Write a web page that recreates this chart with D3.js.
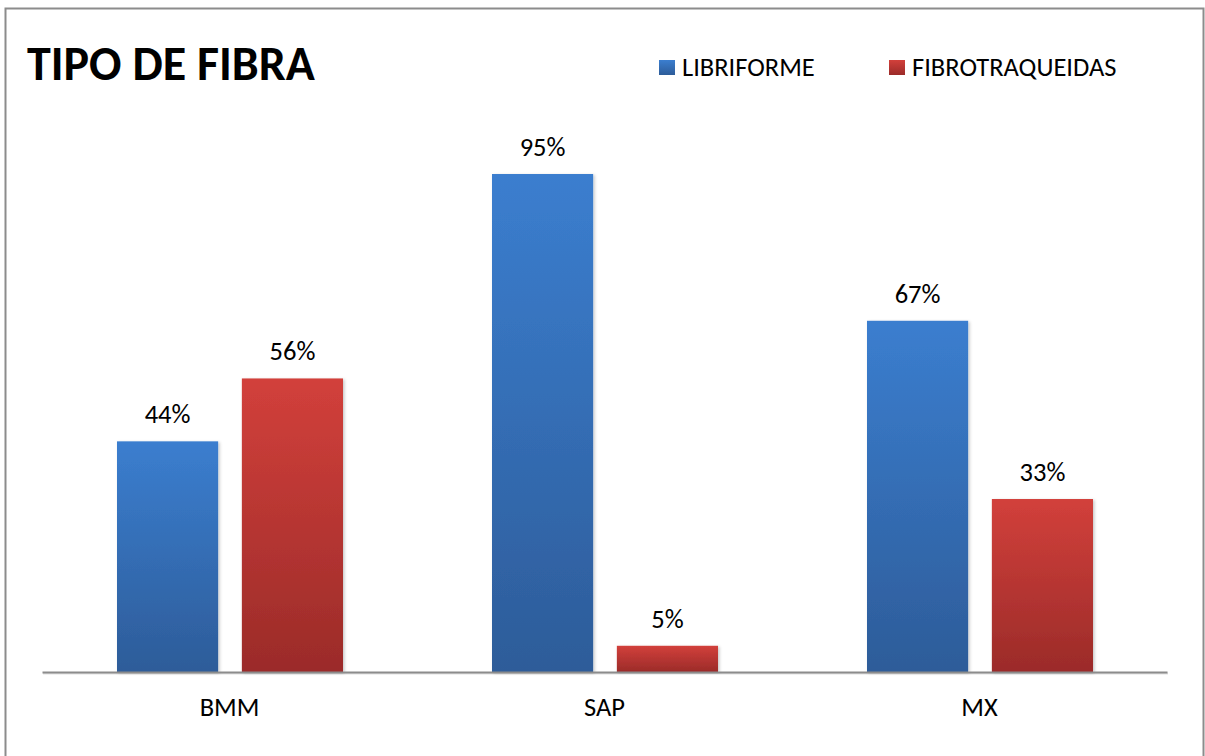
<!DOCTYPE html>
<html>
<head>
<meta charset="utf-8">
<script src="https://cdn.jsdelivr.net/npm/d3@7"></script>
<style>
  html, body { margin: 0; padding: 0; background: #fff; }
  svg { display: block; font-family: Carlito, "Open Sans", sans-serif; }
</style>
</head>
<body>
<svg id="chart" width="1205" height="756"></svg>
<script>
const categories = ["BMM", "SAP", "MX"];
const seriesNames = ["LIBRIFORME", "FIBROTRAQUEIDAS"];
const libriforme = [44, 95, 67];
const fibrotraqueidas = [56, 5, 33];

const svg = d3.select("#chart");
const labelFont = "Carlito, 'Open Sans', sans-serif";
const labelSize = 26.5;

// frame around the chart area
svg.append("rect").attr("x", 5.5).attr("y", 8.5).attr("width", 1198).attr("height", 760)
  .attr("fill", "#fff").attr("stroke", "#8c8c8c").attr("stroke-width", 2);

const defs = svg.append("defs");
const grads = [
  { id: "gBlue", top: "#3b7ecf", bottom: "#2d5c99" },
  { id: "gRed", top: "#d2403b", bottom: "#9b2b29" }
];
grads.forEach(g => {
  const lg = defs.append("linearGradient").attr("id", g.id)
    .attr("x1", 0).attr("y1", 0).attr("x2", 0).attr("y2", 1);
  lg.append("stop").attr("offset", "0%").attr("stop-color", g.top);
  lg.append("stop").attr("offset", "100%").attr("stop-color", g.bottom);
});
const shadow = defs.append("filter").attr("id", "shadow")
  .attr("x", "-10%").attr("y", "-5%").attr("width", "120%").attr("height", "110%");
shadow.append("feDropShadow").attr("dx", 1.5).attr("dy", 1).attr("stdDeviation", 1.5)
  .attr("flood-color", "#000").attr("flood-opacity", 0.22);

const plot = { left: 42, right: 1167, top: 147.8, bottom: 672 };

const x = d3.scaleBand().domain(categories).range([plot.left, plot.right]);
// two bars per category, 101px wide with a 24px gap, centred in each band
const xs = d3.scaleBand().domain(seriesNames).range([75, 301]).paddingInner(0.19);
const y = d3.scaleLinear().domain([0, 100]).range([plot.bottom, plot.top]);

const rows = categories.map((c, i) => ({ cat: c, vals: [libriforme[i], fibrotraqueidas[i]] }));
const fills = ["url(#gBlue)", "url(#gRed)"];

// baseline with a faint shadow underneath
svg.append("line").attr("x1", plot.left + 1).attr("x2", plot.right + 1)
  .attr("y1", plot.bottom + 1.5).attr("y2", plot.bottom + 1.5)
  .attr("stroke", "#000").attr("stroke-opacity", 0.12).attr("stroke-width", 2);

const groups = svg.append("g").selectAll("g").data(rows).join("g")
  .attr("transform", d => `translate(${x(d.cat)},0)`);

groups.selectAll("rect").data(d => d.vals.map((v, j) => ({ v, s: seriesNames[j], j })))
  .join("rect")
  .attr("x", d => xs(d.s))
  .attr("y", d => y(d.v))
  .attr("width", xs.bandwidth())
  .attr("height", d => y(0) - y(d.v))
  .attr("fill", d => fills[d.j])
  .attr("filter", "url(#shadow)");

groups.selectAll("text.val").data(d => d.vals.map((v, j) => ({ v, s: seriesNames[j] })))
  .join("text").attr("class", "val")
  .attr("x", d => xs(d.s) + xs.bandwidth() / 2)
  .attr("y", d => y(d.v) - 18)
  .attr("text-anchor", "middle")
  .attr("font-family", labelFont)
  .attr("font-size", labelSize).attr("fill", "#000")
  .text(d => d.v + "%");

// category axis
const axis = svg.append("g").attr("transform", `translate(0,${plot.bottom})`)
  .call(d3.axisBottom(x).tickSize(0).tickPadding(25));
axis.select(".domain").attr("stroke", "#8c8c8c").attr("stroke-width", 2);
axis.selectAll(".tick text").attr("font-size", labelSize).attr("fill", "#000")
  .attr("font-family", labelFont);

// title
svg.append("text").attr("x", 27).attr("y", 80)
  .attr("font-family", "Carlito, Lato, sans-serif")
  .attr("font-size", 48).attr("font-weight", "bold").attr("fill", "#000")
  .text("TIPO DE FIBRA");

// legend
const legendX = [659, 889];
const legend = svg.append("g").selectAll("g").data(seriesNames).join("g")
  .attr("transform", (d, i) => `translate(${legendX[i]},60)`);
legend.append("rect").attr("width", 16).attr("height", 15)
  .attr("fill", (d, i) => fills[i]);
legend.append("text").attr("x", 23).attr("y", 15.5)
  .attr("font-family", labelFont)
  .attr("font-size", labelSize).attr("fill", "#000").text(d => d);
</script>
</body>
</html>
